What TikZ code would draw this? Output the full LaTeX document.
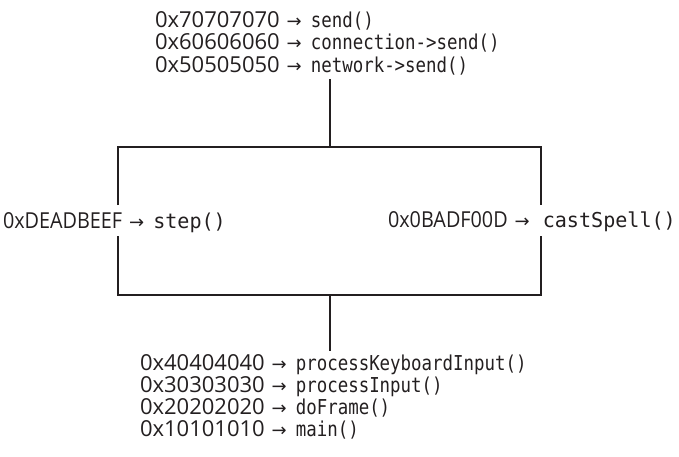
\documentclass[tikz,border=0pt]{standalone}
\usepackage{fontspec}
\setmainfont{Open Sans}
\newfontfamily\codefont[FakeStretch=0.85]{DejaVu Sans Mono}
\newfontfamily\sidecodefont[FakeStretch=0.98]{DejaVu Sans Mono}
\newfontfamily\arrowfont{DejaVu Sans}
\definecolor{ink}{HTML}{231F20}
\newcommand{\hx}[1]{{\fontsize{22pt}{22pt}\selectfont #1}}
\newcommand{\shx}[1]{\scalebox{0.9}[1]{\fontsize{22pt}{22pt}\selectfont #1}}
\newcommand{\cd}[1]{{\codefont\fontsize{20.5pt}{20.5pt}\selectfont #1}}
\newcommand{\scd}[1]{{\sidecodefont\fontsize{20.5pt}{20.5pt}\selectfont #1}}
\newcommand{\ar}{\hspace{7pt}{\arrowfont\fontsize{18pt}{18pt}\selectfont →}\hspace{9pt}}
\tikzset{
  entry/.style={inner sep=0pt, outer sep=0pt, anchor=base west, text=ink},
  wire/.style={draw=ink, line width=2.6pt}
}
\begin{document}
\begin{tikzpicture}[x=1pt,y=-1pt]
\useasboundingbox (0,0) rectangle (679,456);
% top stack
\node[entry] (t1) at (155,27) {\hx{0x70707070}\ar\cd{send()}};
\node[entry] (t2) at (155,49.5) {\hx{0x60606060}\ar\cd{connection->send()}};
\node[entry] (t3) at (155,72) {\hx{0x50505050}\ar\cd{network->send()}};
% sides
\node[entry] (L) at (3,228) {\shx{0xDEADBEEF}\ar\scd{step()}};
\node[entry] (R) at (388,227) {\shx{0x0BADF00D}\ar\hspace{4pt}\scd{castSpell()}};
% bottom stack
\node[entry] (b1) at (140,370) {\hx{0x40404040}\ar\cd{processKeyboardInput()}};
\node[entry] (b2) at (140,392) {\hx{0x30303030}\ar\cd{processInput()}};
\node[entry] (b3) at (140,414) {\hx{0x20202020}\ar\cd{doFrame()}};
\node[entry] (b4) at (140,436) {\hx{0x10101010}\ar\cd{main()}};
% junctions
\coordinate (jt) at (330,147);
\coordinate (jb) at (330,295);
\coordinate (lt) at (118,147);
\coordinate (rt) at (541,147);
\coordinate (lb) at (118,295);
\coordinate (rb) at (541,295);
\coordinate (ttop) at (330,79);
\coordinate (bbot) at (330,351);
\draw[wire] (ttop) -- (jt);
\draw[wire] (118,205) -- (lt) -- (rt) -- (541,205);
\draw[wire] (118,236) -- (lb) -- (rb) -- (541,236);
\draw[wire] (jb) -- (bbot);
\end{tikzpicture}
\end{document}
